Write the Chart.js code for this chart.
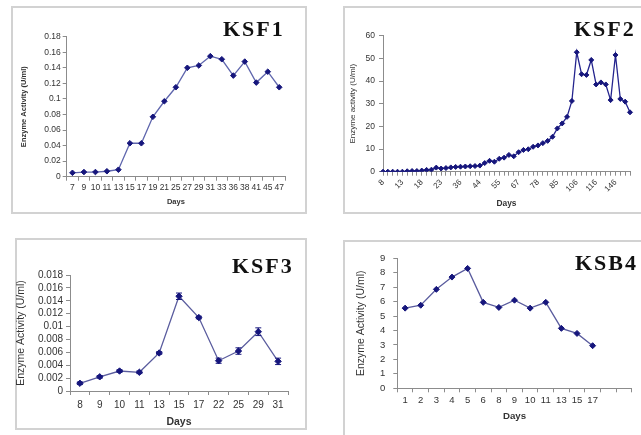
<!DOCTYPE html>
<html>
<head>
<meta charset="utf-8">
<script src="https://cdn.jsdelivr.net/npm/chart.js@4.4.1/dist/chart.umd.min.js"></script>
<style>
  html, body { margin: 0; padding: 0; background: #fff; }
  body { width: 641px; height: 435px; position: relative; overflow: hidden; }
  .frame { position: absolute; border: 2px solid #d2d2d2; box-sizing: border-box; }
  canvas { position: absolute; }
  .name {
    position: absolute;
    font: bold 22px 'Liberation Serif', 'Times New Roman', serif;
    letter-spacing: 2px;
    line-height: 22px;
    color: #111;
    white-space: nowrap;
  }
</style>
</head>
<body>
<div class="frame" style="left:11px;top:6px;width:296px;height:208px"></div>
<div class="frame" style="left:343px;top:6px;width:310px;height:208px"></div>
<div class="frame" style="left:15px;top:238px;width:292px;height:192px"></div>
<div class="frame" style="left:343px;top:240px;width:310px;height:210px"></div>

<canvas id="ksf1" width="292" height="204" style="left:12px;top:8px"></canvas>
<canvas id="ksf2" width="296" height="204" style="left:344px;top:8px"></canvas>
<canvas id="ksf3" width="295" height="192" style="left:10px;top:240px"></canvas>
<canvas id="ksb4" width="296" height="193" style="left:344px;top:242px"></canvas>

<div class="name" style="left:223px;top:18px">KSF1</div>
<div class="name" style="left:574px;top:18px">KSF2</div>
<div class="name" style="left:232px;top:255px">KSF3</div>
<div class="name" style="left:575px;top:252px">KSB4</div>

<script>
// KSF1
const ksf1Days = ['7', '9', '10', '11', '13', '15', '17', '19', '21', '25', '27', '29', '31', '33', '36', '38', '41', '45', '47']
const ksf1Activity = [0.005, 0.006, 0.006, 0.007, 0.009, 0.043, 0.043, 0.077, 0.097, 0.115, 0.140, 0.143, 0.155, 0.151, 0.130, 0.148, 0.121, 0.135, 0.115]

// KSF2 - only every 4th sampling day carries a label on the axis
const ksf2Days = [
  '8', '', '', '', '13', '', '', '', '18', '', '', '', '23', '', '', '',
  '36', '', '', '', '44', '', '', '', '55', '', '', '', '67', '', '', '',
  '78', '', '', '', '85', '', '', '', '106', '', '', '', '116', '', '', '',
  '146', '', '', ''
]
const ksf2Activity = [
  0, 0, 0, 0, 0, 0.2, 0.3, 0.3, 0.5, 0.8, 0.9, 1.8, 1.4,
  1.6, 1.9, 2.1, 2.2, 2.3, 2.4, 2.5, 2.7, 3.8, 4.8, 4.4,
  5.7, 6.2, 7.4, 6.8, 8.6, 9.6, 9.9, 11.0, 11.6, 12.6, 13.6,
  15.4, 19.1, 21.3, 24.2, 31.2, 52.7, 43.0, 42.7, 49.3, 38.5,
  39.4, 38.5, 31.6, 51.5, 32.1, 30.9, 26.2
]

// KSF3 (with error bars)
const ksf3Days = ['8', '9', '10', '11', '13', '15', '17', '22', '25', '29', '31']
const ksf3Activity = [0.0012, 0.0022, 0.0031, 0.0029, 0.0059, 0.0147, 0.0114, 0.0047, 0.0062, 0.0092, 0.0046]
const ksf3Error = [0.0002, 0.0002, 0.0002, 0.0002, 0.0002, 0.0005, 0.0002, 0.0004, 0.0005, 0.0006, 0.0005]

// KSB4 - axis keeps two empty slots after day 17
const ksb4Days = ['1', '2', '3', '4', '5', '6', '8', '9', '10', '11', '13', '15', '17', '', '']
const ksb4Activity = [5.55, 5.75, 6.85, 7.7, 8.3, 5.95, 5.6, 6.1, 5.55, 5.95, 4.15, 3.8, 2.95]

Chart.defaults.font.family = "'Liberation Sans', Arial, sans-serif"
Chart.defaults.color = '#333'

const AXIS = '#8c8c8c'
const NAVY = '#16167c'

// small vertical bars with caps, drawn through the y scale
const errorBars = {
  id: 'errorBars',
  afterDatasetsDraw(chart, args, opts) {
    if (!opts.errors) return
    const { ctx } = chart
    const y = chart.scales.y
    const values = chart.data.datasets[0].data
    const meta = chart.getDatasetMeta(0)
    ctx.save()
    ctx.strokeStyle = NAVY
    ctx.lineWidth = 1
    meta.data.forEach((pt, i) => {
      const hi = y.getPixelForValue(values[i] + opts.errors[i])
      const lo = y.getPixelForValue(values[i] - opts.errors[i])
      ctx.beginPath()
      ctx.moveTo(pt.x, hi)
      ctx.lineTo(pt.x, lo)
      ctx.moveTo(pt.x - 3, hi)
      ctx.lineTo(pt.x + 3, hi)
      ctx.moveTo(pt.x - 3, lo)
      ctx.lineTo(pt.x + 3, lo)
      ctx.stroke()
    })
    ctx.restore()
  }
}

const trimNumber = value => String(Number(value.toFixed(6)))

function panel(id, o) {
  return new Chart(document.getElementById(id), {
    type: 'line',
    data: {
      labels: o.labels,
      datasets: [{
        data: o.data,
        borderColor: o.lineColor,
        borderWidth: 1.3,
        pointStyle: 'rectRot',
        pointRadius: o.pointRadius,
        pointBackgroundColor: NAVY,
        pointBorderColor: NAVY,
        pointBorderWidth: 1,
        tension: 0
      }]
    },
    plugins: [errorBars],
    options: {
      responsive: false,
      animation: false,
      events: [],
      layout: { padding: { top: o.padTop, right: o.padRight, left: 0, bottom: 0 } },
      plugins: {
        legend: { display: false },
        tooltip: { enabled: false },
        errorBars: { errors: o.errors }
      },
      scales: {
        x: {
          offset: o.offset,
          grid: { offset: o.offset, drawOnChartArea: false, color: AXIS, tickLength: 4 },
          border: { color: AXIS },
          ticks: {
            autoSkip: false,
            maxRotation: o.rotation,
            minRotation: o.rotation,
            padding: o.xTickPad,
            font: { size: o.xTickSize }
          },
          title: {
            display: true,
            text: 'Days',
            font: { size: o.daysSize, weight: 'bold' },
            padding: { top: 0, bottom: o.daysPad }
          },
          afterFit: scale => { scale.height = o.xHeight }
        },
        y: {
          min: o.yMin,
          max: o.yMax,
          grid: { drawOnChartArea: false, color: AXIS, tickLength: 4 },
          border: { color: AXIS },
          ticks: {
            autoSkip: false,
            stepSize: o.yStep,
            padding: o.yTickPad,
            font: { size: o.yTickSize },
            callback: trimNumber
          },
          title: {
            display: true,
            text: o.yTitle,
            font: { size: o.yTitleSize, weight: o.yTitleWeight },
            padding: { top: o.yTitlePad, bottom: 0 }
          },
          afterFit: scale => { scale.width = o.yWidth }
        }
      }
    }
  })
}

panel('ksf1', {
  labels: ksf1Days, data: ksf1Activity, lineColor: '#5f66ad', pointRadius: 2.8,
  padTop: 28.7, padRight: 19, offset: true, rotation: 0,
  xTickPad: 2, xTickSize: 8.5, daysSize: 7.5, daysPad: 5.8, xHeight: 35.3,
  yMin: 0, yMax: 0.18, yStep: 0.02, yTickPad: 2, yTickSize: 8.5,
  yTitle: 'Enzyme Activity (U/ml)', yTitleSize: 7.5, yTitleWeight: 'bold', yTitlePad: 7.5, yWidth: 54.7
})

panel('ksf2', {
  labels: ksf2Days, data: ksf2Activity, lineColor: '#24248e', pointRadius: 2.5,
  padTop: 27.7, padRight: 10, offset: false, rotation: 45,
  xTickPad: 2, xTickSize: 8, daysSize: 8.4, daysPad: 3, xHeight: 40.3,
  yMin: 0, yMax: 60, yStep: 10, yTickPad: 4, yTickSize: 8.5,
  yTitle: 'Enzyme activity (U/ml)', yTitleSize: 8, yTitleWeight: 'normal', yTitlePad: 4.2, yWidth: 39
})

panel('ksf3', {
  labels: ksf3Days, data: ksf3Activity, lineColor: '#5a5c9e', pointRadius: 3.2, errors: ksf3Error,
  padTop: 35, padRight: 17, offset: true, rotation: 0,
  xTickPad: 4, xTickSize: 10, daysSize: 10.5, daysPad: 4, xHeight: 41,
  yMin: 0, yMax: 0.018, yStep: 0.002, yTickPad: 3, yTickSize: 10,
  yTitle: 'Enzyme Activity (U/ml)', yTitleSize: 10.5, yTitleWeight: 'normal', yTitlePad: 4.7, yWidth: 60
})

panel('ksb4', {
  labels: ksb4Days, data: ksb4Activity, lineColor: '#5a5c9e', pointRadius: 3,
  padTop: 16.3, padRight: 8.3, offset: true, rotation: 0,
  xTickPad: 2, xTickSize: 9.5, daysSize: 9.7, daysPad: 12.5, xHeight: 46.7,
  yMin: 0, yMax: 9, yStep: 1, yTickPad: 8, yTickSize: 9.5,
  yTitle: 'Enzyme Activity (U/ml)', yTitleSize: 10.5, yTitleWeight: 'normal', yTitlePad: 11.1, yWidth: 53.3
})
</script>
</body>
</html>
